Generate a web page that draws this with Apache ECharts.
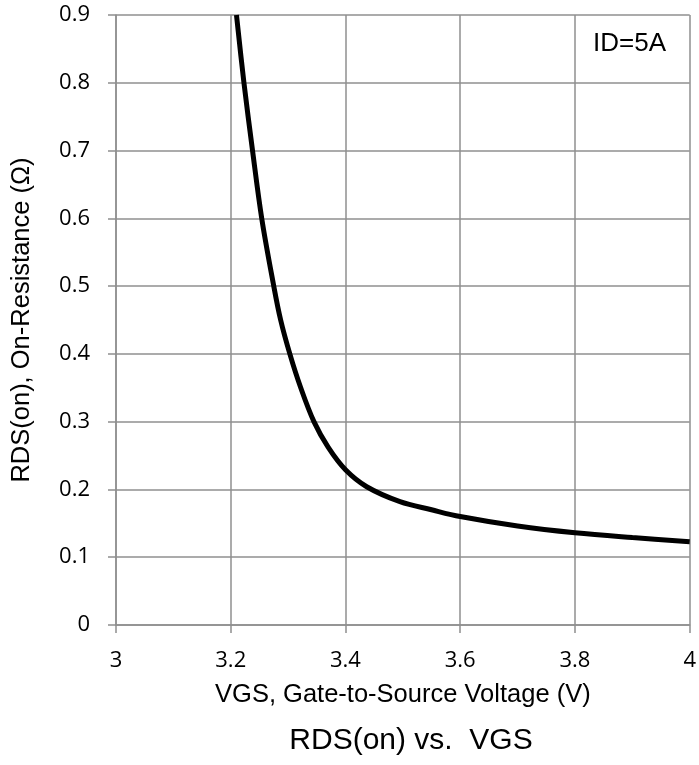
<!DOCTYPE html>
<html>
<head>
<meta charset="utf-8">
<script src="https://cdn.jsdelivr.net/npm/echarts@6/dist/echarts.min.js"></script>
<style>
  html, body { margin: 0; padding: 0; background: #fff; }
  #chart { width: 699px; height: 765px; }
</style>
</head>
<body>
<div id="chart"></div>
<script>
// VGS (V) and RDS(on) (ohm)
var vgs = [3.210, 3.223, 3.238, 3.254, 3.275, 3.287, 3.303, 3.322, 3.345, 3.370, 3.400, 3.437, 3.495, 3.550, 3.600, 3.700, 3.800, 3.900, 4.000]
var rds = [0.900, 0.800, 0.700, 0.600, 0.500, 0.450, 0.400, 0.350, 0.300, 0.262, 0.229, 0.204, 0.182, 0.170, 0.160, 0.146, 0.136, 0.129, 0.123]
var xTicks = [3, 3.2, 3.4, 3.6, 3.8, 4]
var yTicks = [0, 0.1, 0.2, 0.3, 0.4, 0.5, 0.6, 0.7, 0.8, 0.9]

var gridColor = '#8f8f8f'
var tickFont = 'Open Sans, Liberation Sans, sans-serif'
var textFont = 'Liberation Sans, Arial, sans-serif'

var points = []
for (var i = 0; i < vgs.length; i++) {
  points.push([vgs[i], rds[i]])
}

var myChart = echarts.init(document.getElementById('chart'))
myChart.setOption({
  animation: false,
  grid: { left: 116, right: 9, top: 15, bottom: 140 },
  title: {
    text: 'RDS(on) vs.  VGS',
    left: 406,
    textAlign: 'center',
    top: 721,
    textStyle: { fontFamily: textFont, fontSize: 30, fontWeight: 'normal', color: '#000' }
  },
  graphic: [
    {
      type: 'text',
      left: 593,
      top: 31,
      style: { text: 'ID=5A', font: '26px ' + textFont, fill: '#000' }
    }
  ],
  xAxis: {
    type: 'value',
    min: 3,
    max: 4,
    interval: 0.2,
    name: 'VGS, Gate-to-Source Voltage (V)',
    nameLocation: 'middle',
    nameGap: 57,
    nameTextStyle: { fontFamily: textFont, fontSize: 25.5, color: '#000' },
    axisLine: { show: true, lineStyle: { color: gridColor, width: 1.5 } },
    axisTick: { show: true, length: 8, lineStyle: { color: gridColor, width: 1.5 } },
    axisLabel: {
      margin: 25,
      fontFamily: tickFont,
      fontSize: 22,
      color: '#000',
      formatter: function (v) { return xTicks.indexOf(+v.toFixed(1)) >= 0 ? String(+v.toFixed(1)) : '' }
    },
    splitLine: { show: true, lineStyle: { color: gridColor, width: 1.5 } }
  },
  yAxis: {
    type: 'value',
    min: 0,
    max: 0.9,
    interval: 0.1,
    name: 'RDS(on), On-Resistance (Ω)',
    nameLocation: 'middle',
    nameGap: 81,
    nameTextStyle: { fontFamily: textFont, fontSize: 25.5, color: '#000' },
    axisLine: { show: true, lineStyle: { color: gridColor, width: 1.5 } },
    axisTick: { show: true, length: 8, lineStyle: { color: gridColor, width: 1.5 } },
    axisLabel: {
      margin: 26,
      fontFamily: tickFont,
      fontSize: 22,
      color: '#000',
      formatter: function (v) { return yTicks.indexOf(+v.toFixed(1)) >= 0 ? String(+v.toFixed(1)) : '' }
    },
    splitLine: { show: true, lineStyle: { color: gridColor, width: 1.5 } }
  },
  series: [
    {
      type: 'line',
      data: points,
      smooth: 0.35,
      showSymbol: false,
      lineStyle: { color: '#000', width: 5 },
      clip: true
    }
  ]
})
</script>
</body>
</html>
